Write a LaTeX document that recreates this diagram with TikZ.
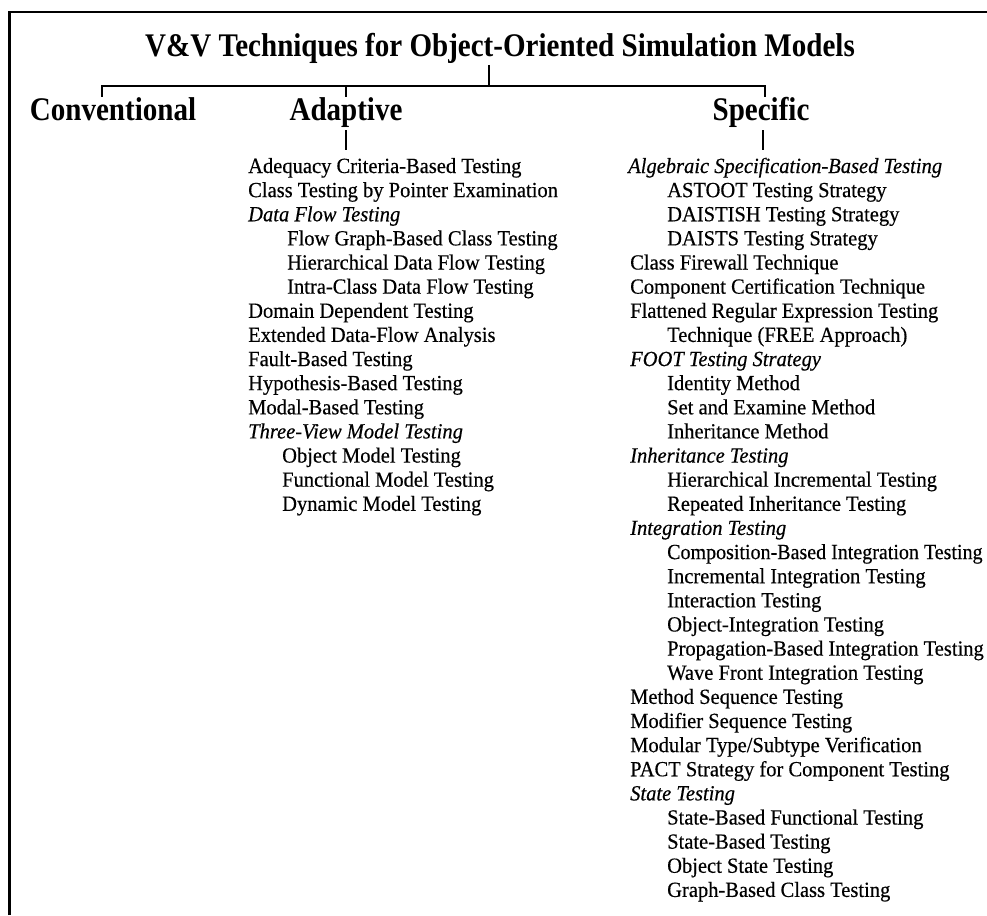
\documentclass[tikz,border=0pt]{standalone}
\usepackage{graphicx}
\usepackage{fontspec}
\setmainfont{Liberation Serif}[FakeBold=0.4]
\newfontfamily\hdfont[FakeStretch=0.88]{Liberation Serif}
\newfontfamily\bodyfont[FakeStretch=0.95,FakeBold=0.4]{Liberation Serif}
\begin{document}
\begin{tikzpicture}[x=1pt,y=-1pt,
  itemtxt/.style={anchor=base west, inner sep=0pt, font=\bodyfont\fontsize{21.6}{24}\selectfont},
  itemit/.style={itemtxt, font=\bodyfont\fontsize{21.6}{24}\selectfont\itshape},
  head/.style={anchor=base, inner sep=0pt, font=\hdfont\bfseries\fontsize{33}{36}\selectfont},
  tree/.style={line width=2pt},
  frame/.style={line width=2.6pt}]
\useasboundingbox (0,0) rectangle (987,915);
\fill[white] (0,0) rectangle (987,915);
\draw[frame] (9.5,915) -- (9.5,12) -- (987,12);

% title and headings
\node[head] (title) at (500,57) {V\&V Techniques for Object-Oriented Simulation Models};
\node[head] (conv) at (113,121) {Conventional};
\node[head] (adap) at (346,121) {Adaptive};
\node[head] (spec) at (761,121) {Specific};

\coordinate (hub) at (489,86);
\coordinate (cL) at (102,86);
\coordinate (cA) at (346,86);
\coordinate (cS) at (765,86);
\draw[tree] (489,65) -- (hub);
\draw[tree] (102,97) -- (cL) -- (cS) -- (765,97);
\draw[tree] (cA) -- (346,97);
\coordinate (tA) at (346,150);
\coordinate (tS) at (763,150);
\draw[tree] (346,130) -- (tA);
\draw[tree] (763,130) -- (tS);

% Adaptive column
\def\p{24.13}
\node[itemtxt] (a1) at (248,{173+0*\p}) {Adequacy Criteria-Based Testing};
\node[itemtxt] (a2) at (248,{173+1*\p}) {Class Testing by Pointer Examination};
\node[itemit]  (a3) at (248,{173+2*\p}) {Data Flow Testing};
\node[itemtxt] (a4) at (287,{173+3*\p}) {Flow Graph-Based Class Testing};
\node[itemtxt] (a5) at (287,{173+4*\p}) {Hierarchical Data Flow Testing};
\node[itemtxt] (a6) at (287,{173+5*\p}) {Intra-Class Data Flow Testing};
\node[itemtxt] (a7) at (248,{173+6*\p}) {Domain Dependent Testing};
\node[itemtxt] (a8) at (248,{173+7*\p}) {Extended Data-Flow Analysis};
\node[itemtxt] (a9) at (248,{173+8*\p}) {Fault-Based Testing};
\node[itemtxt] (a10) at (248,{173+9*\p}) {Hypothesis-Based Testing};
\node[itemtxt] (a11) at (248,{173+10*\p}) {Modal-Based Testing};
\node[itemit]  (a12) at (248,{173+11*\p}) {Three-View Model Testing};
\node[itemtxt] (a13) at (282,{173+12*\p}) {Object Model Testing};
\node[itemtxt] (a14) at (282,{173+13*\p}) {Functional Model Testing};
\node[itemtxt] (a15) at (282,{173+14*\p}) {Dynamic Model Testing};

% Specific column
\node[itemit]  (s1) at (628,{173+0*\p}) {Algebraic Specification-Based Testing};
\node[itemtxt] (s2) at (667,{173+1*\p}) {ASTOOT Testing Strategy};
\node[itemtxt] (s3) at (667,{173+2*\p}) {DAISTISH Testing Strategy};
\node[itemtxt] (s4) at (667,{173+3*\p}) {DAISTS Testing Strategy};
\node[itemtxt] (s5) at (630,{173+4*\p}) {Class Firewall Technique};
\node[itemtxt] (s6) at (630,{173+5*\p}) {Component Certification Technique};
\node[itemtxt] (s7) at (630,{173+6*\p}) {Flattened Regular Expression Testing};
\node[itemtxt] (s8) at (667,{173+7*\p}) {Technique (FREE Approach)};
\node[itemit]  (s9) at (630,{173+8*\p}) {FOOT Testing Strategy};
\node[itemtxt] (s10) at (667,{173+9*\p}) {Identity Method};
\node[itemtxt] (s11) at (667,{173+10*\p}) {Set and Examine Method};
\node[itemtxt] (s12) at (667,{173+11*\p}) {Inheritance Method};
\node[itemit]  (s13) at (630,{173+12*\p}) {Inheritance Testing};
\node[itemtxt] (s14) at (667,{173+13*\p}) {Hierarchical Incremental Testing};
\node[itemtxt] (s15) at (667,{173+14*\p}) {Repeated Inheritance Testing};
\node[itemit]  (s16) at (630,{173+15*\p}) {Integration Testing};
\node[itemtxt] (s17) at (667,{173+16*\p}) {\scalebox{0.975}[1]{Composition-Based Integration Testing}};
\node[itemtxt] (s18) at (667,{173+17*\p}) {Incremental Integration Testing};
\node[itemtxt] (s19) at (667,{173+18*\p}) {Interaction Testing};
\node[itemtxt] (s20) at (667,{173+19*\p}) {Object-Integration Testing};
\node[itemtxt] (s21) at (667,{173+20*\p}) {Propagation-Based Integration Testing};
\node[itemtxt] (s22) at (667,{173+21*\p}) {Wave Front Integration Testing};
\node[itemtxt] (s23) at (630,{173+22*\p}) {Method Sequence Testing};
\node[itemtxt] (s24) at (630,{173+23*\p}) {Modifier Sequence Testing};
\node[itemtxt] (s25) at (630,{173+24*\p}) {Modular Type/Subtype Verification};
\node[itemtxt] (s26) at (630,{173+25*\p}) {PACT Strategy for Component Testing};
\node[itemit]  (s27) at (630,{173+26*\p}) {State Testing};
\node[itemtxt] (s28) at (667,{173+27*\p}) {State-Based Functional Testing};
\node[itemtxt] (s29) at (667,{173+28*\p}) {State-Based Testing};
\node[itemtxt] (s30) at (667,{173+29*\p}) {Object State Testing};
\node[itemtxt] (s31) at (667,{173+30*\p}) {Graph-Based Class Testing};
\end{tikzpicture}
\end{document}
